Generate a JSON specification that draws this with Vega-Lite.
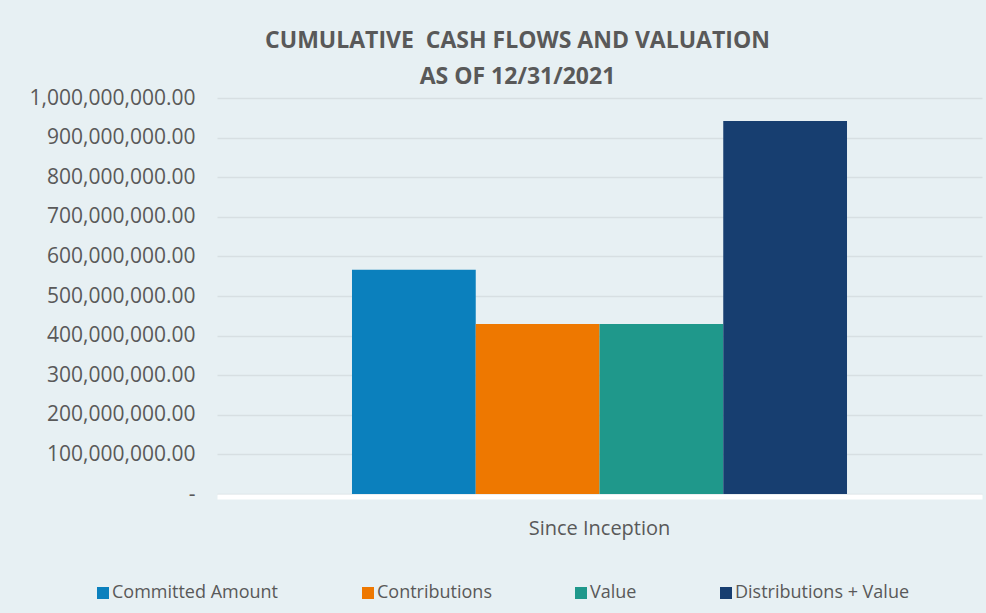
{
  "$schema": "https://vega.github.io/schema/vega-lite/v6.json",
  "width": 765,
  "height": 396,
  "autosize": {"type": "none"},
  "padding": {"left": 217, "top": 98, "right": 4, "bottom": 119},
  "background": "#e7f0f3",
  "title": {
    "text": ["CUMULATIVE\u00a0 CASH FLOWS AND VALUATION", "AS OF 12/31/2021"],
    "anchor": "middle",
    "frame": "group",
    "dx": -82,
    "offset": -2,
    "fontSize": 23,
    "font": "Open Sans",
    "fontWeight": "bold",
    "color": "#595959",
    "lineHeight": 36
  },
  "data": {
    "values": [
      {"period": "Since Inception", "series": "Committed Amount", "amount": 566000000},
      {"period": "Since Inception", "series": "Contributions", "amount": 429000000},
      {"period": "Since Inception", "series": "Value", "amount": 429500000},
      {"period": "Since Inception", "series": "Distributions + Value", "amount": 942000000}
    ]
  },
  "mark": {"type": "bar"},
  "encoding": {
    "x": {
      "field": "period",
      "type": "nominal",
      "scale": {"paddingInner": 0, "paddingOuter": 0.2727},
      "axis": {
        "title": null,
        "labelAngle": 0,
        "ticks": false,
        "domainColor": "#ffffff",
        "domainWidth": 5,
        "offset": 2.5,
        "labelPadding": 22,
        "labelFontSize": 20,
        "labelFont": "Open Sans",
        "labelColor": "#595959"
      }
    },
    "xOffset": {
      "field": "series",
      "type": "nominal",
      "sort": ["Committed Amount", "Contributions", "Value", "Distributions + Value"],
      "scale": {"paddingInner": 0, "paddingOuter": 0}
    },
    "y": {
      "field": "amount",
      "type": "quantitative",
      "scale": {"domain": [0, 1000000000], "nice": false},
      "axis": {
        "title": null,
        "values": [0, 100000000, 200000000, 300000000, 400000000, 500000000, 600000000, 700000000, 800000000, 900000000, 1000000000],
        "labelExpr": "datum.value == 0 ? '-' : format(datum.value, ',.2f')",
        "grid": true,
        "gridColor": "#d7dfe2",
        "gridWidth": 1.5,
        "domain": false,
        "ticks": false,
        "labelPadding": 22,
        "labelFontSize": 21,
        "labelFont": "Open Sans",
        "labelColor": "#595959"
      }
    },
    "color": {
      "field": "series",
      "type": "nominal",
      "sort": ["Committed Amount", "Contributions", "Value", "Distributions + Value"],
      "scale": {
        "domain": ["Committed Amount", "Contributions", "Value", "Distributions + Value"],
        "range": ["#0b80bd", "#ee7800", "#1f988b", "#173e70"]
      },
      "legend": {
        "orient": "none",
        "legendX": -123,
        "legendY": 486,
        "direction": "horizontal",
        "title": null,
        "symbolType": "square",
        "symbolSize": 144,
        "symbolStrokeWidth": 0,
        "labelFontSize": 18,
        "labelLimit": 0,
        "labelFont": "Open Sans",
        "labelColor": "#595959",
        "labelOffset": 0,
        "columnPadding": 80
      }
    }
  },
  "config": {"view": {"stroke": null}}
}
